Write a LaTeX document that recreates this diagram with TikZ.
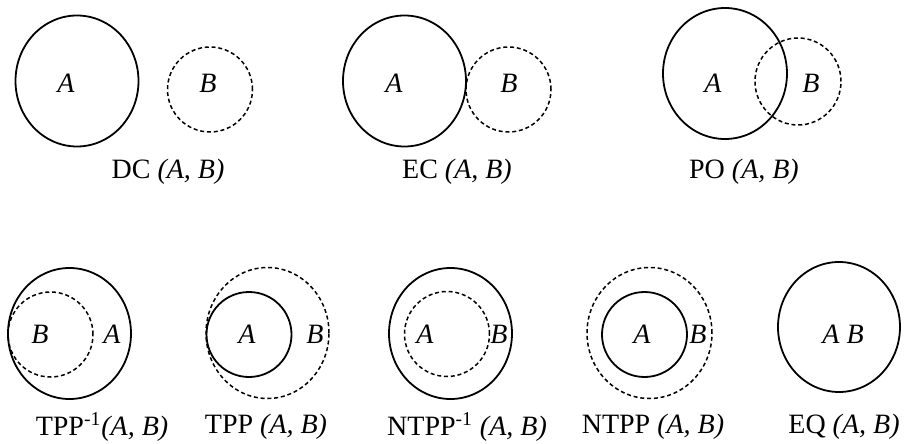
\documentclass[tikz,border=0pt]{standalone}
\usepackage{fontspec}
\setmainfont{Liberation Serif}
\usetikzlibrary{shapes.geometric}
\begin{document}
\begin{tikzpicture}[x=0.5pt,y=-0.5pt,
  region/.style={ellipse, inner sep=0pt, outer sep=0pt},
  big/.style={region, minimum width=61.5pt, minimum height=65.5pt},
  small/.style={region, minimum width=42.5pt, minimum height=42.5pt},
  solidline/.style={draw, line width=0.9pt},
  dashline/.style={draw, line width=0.75pt, dash pattern=on 2pt off 1.4pt},
  lbl/.style={inner sep=0pt, font=\fontsize{14}{16}\selectfont\itshape},
  captext/.style={inner sep=0pt, font=\fontsize{14}{16}\selectfont}]
\useasboundingbox (0,0) rectangle (906,444);
% DC
\node[big, solidline] (dcA) at (77,81) {};
\node[small, dashline] (dcB) at (210,89.5) {};
\node[lbl] (dcAl) at (66,83) {A};
\node[lbl] (dcBl) at (208,83) {B};
\node[captext] (dccap) at (168,172) {DC \textit{(A, B)}};
% EC
\node[big, solidline] (ecA) at (404.5,81) {};
\node[small, dashline] (ecB) at (508.5,89.5) {};
\node[lbl] (ecAl) at (394,83) {A};
\node[lbl] (ecBl) at (509,83) {B};
\node[captext] (eccap) at (457,172) {EC \textit{(A, B)}};
% PO
\node[big, solidline, minimum width=62pt] (poA) at (725,73.5) {};
\node[small, dashline, minimum width=43pt, minimum height=43.5pt] (poB) at (798,81.5) {};
\node[lbl] (poAl) at (713,83) {A};
\node[lbl] (poBl) at (811,83) {B};
\node[captext] (pocap) at (744,172) {PO \textit{(A, B)}};
% TPP^-1
\node[big, solidline] (tiA) at (69.5,333.5) {};
\node[small, dashline] (tiB) at (50.5,334.5) {};
\node[lbl] (tiBl) at (40,334) {B};
\node[lbl] (tiAl) at (112,334) {A};
\node[captext] (ticap) at (102,427) {TPP\textsuperscript{-1}\textit{(A, B)}};
% TPP
\node[big, dashline] (tpB) at (267.5,333) {};
\node[small, solidline] (tpA) at (249,334.5) {};
\node[lbl] (tpAl) at (247,334) {A};
\node[lbl] (tpBl) at (315,334) {B};
\node[captext] (tpcap) at (266,427) {TPP \textit{(A, B)}};
% NTPP^-1
\node[big, solidline] (niA) at (450.5,333.5) {};
\node[small, dashline] (niB) at (447,334) {};
\node[lbl] (niAl) at (425,334) {A};
\node[lbl] (niBl) at (499,334) {B};
\node[captext] (nicap) at (467,427) {NTPP\textsuperscript{-1} \textit{(A, B)}};
% NTPP
\node[big, dashline, minimum width=62.5pt] (ntB) at (649.5,333) {};
\node[small, solidline] (ntA) at (644.5,334.5) {};
\node[lbl] (ntAl) at (642,334) {A};
\node[lbl] (ntBl) at (698,334) {B};
\node[captext] (ntcap) at (653,427) {NTPP \textit{(A, B)}};
% EQ
\node[big, solidline, minimum width=61pt, minimum height=65pt] (eqA) at (839,327) {};
\node[lbl] (eql) at (843,334) {A B};
\node[captext] (eqcap) at (844,427) {EQ \textit{(A, B)}};
\end{tikzpicture}
\end{document}
